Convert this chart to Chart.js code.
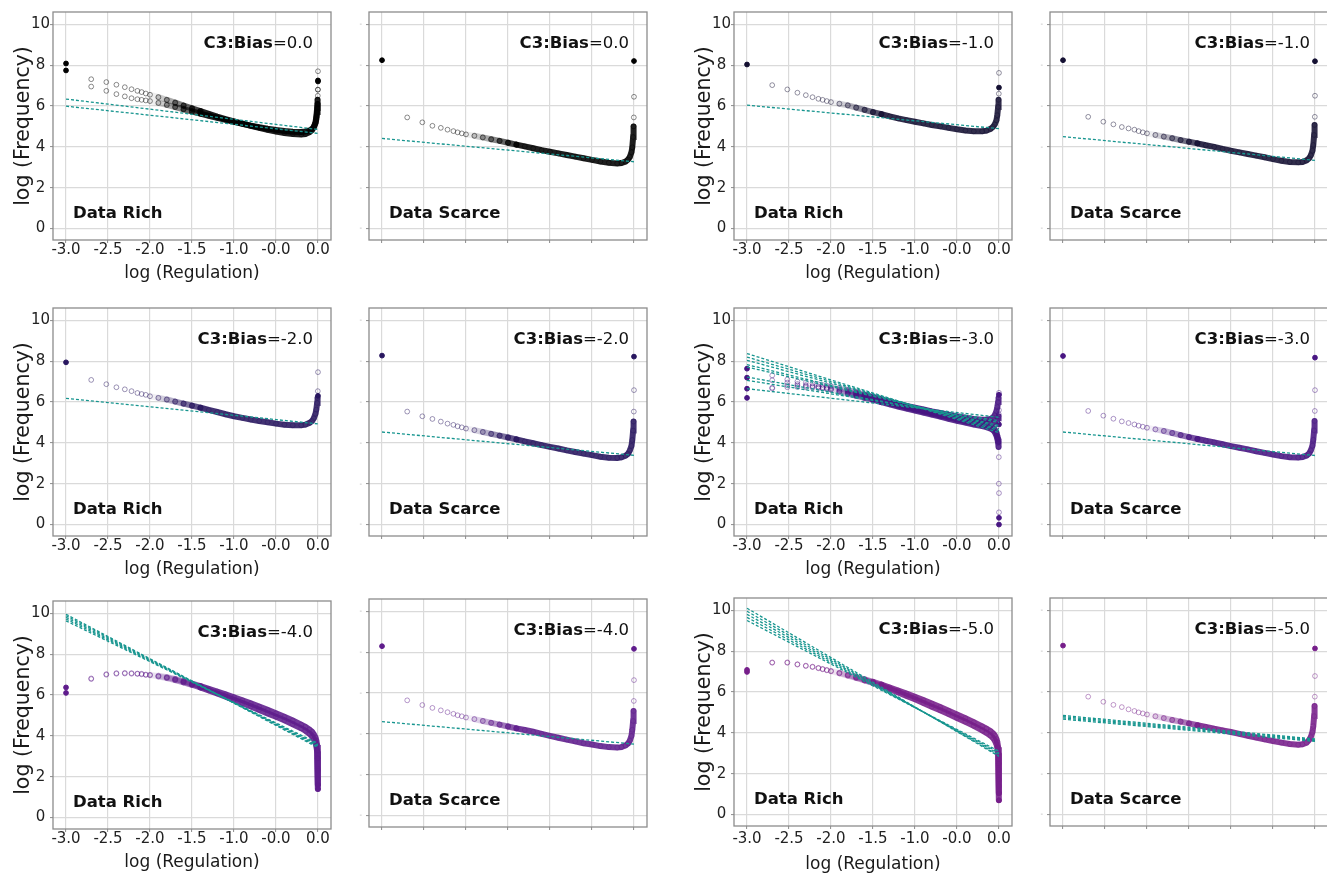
<!DOCTYPE html>
<html>
<head>
<meta charset="utf-8">
<title>Regulation vs frequency</title>
<script src="https://cdn.jsdelivr.net/npm/chart.js@4.4.1/dist/chart.umd.min.js"></script>
<style>
  html, body { margin: 0; padding: 0; background: #fff; }
  body { width: 1327px; height: 877px; position: relative; overflow: hidden; }
  .panel { position: absolute; width: 340px; height: 290px; }
</style>
</head>
<body>
<script>
// log10 of the regulation strength, shared by every point curve
// (x = 0 appears twice: the last open circle and the final filled dot)
const REG = [-3.0, -2.7, -2.52, -2.4, -2.3, -2.22, -2.15, -2.1, -2.05, -2.0,
  -1.9, -1.8, -1.7, -1.6, -1.5, -1.4, -1.3, -1.2, -1.1, -1.0,
  -0.9, -0.8, -0.7, -0.6, -0.5, -0.4, -0.3, -0.2, -0.15, -0.1,
  -0.07, -0.05, -0.03, -0.02, -0.01, -0.005, -0.002, 0, 0];

const X_TICKS = [-3, -2.5, -2, -1.5, -1, -0.5, 0];
const X_TICK_LABELS = ['-3.0', '-2.5', '-2.0', '-1.5', '-1.0', '-0.0', '0.0'];
const Y_TICKS = [0, 2, 4, 6, 8, 10];
const FIT_X = [-3, 0];

// log frequency, C3:Bias = 0.0
const RICH_0_UP = [8.08, 7.31, 7.17, 7.04, 6.92, 6.82, 6.74, 6.68, 6.61, 6.55,
  6.43, 6.3, 6.16, 6.02, 5.88, 5.75, 5.61, 5.48, 5.36, 5.25,
  5.14, 5.03, 4.93, 4.83, 4.75, 4.68, 4.63, 4.61, 4.63, 4.72,
  4.82, 4.95, 5.2, 5.45, 5.9, 6.3, 6.8, 7.7, 7.25];
const RICH_0_LO = [7.74, 6.95, 6.74, 6.58, 6.47, 6.38, 6.33, 6.3, 6.27, 6.24,
  6.15, 6.05, 5.95, 5.84, 5.73, 5.63, 5.52, 5.42, 5.32, 5.22,
  5.13, 5.04, 4.96, 4.89, 4.83, 4.78, 4.74, 4.73, 4.75, 4.8,
  4.88, 4.98, 5.15, 5.35, 5.7, 6.1, 6.5, 6.8, 7.2];
const SCARCE_0 = [8.24, 5.44, 5.2, 5.03, 4.93, 4.84, 4.77, 4.71, 4.66, 4.61,
  4.54, 4.46, 4.37, 4.29, 4.2, 4.11, 4.02, 3.93, 3.84, 3.76,
  3.68, 3.6, 3.52, 3.44, 3.36, 3.28, 3.22, 3.19, 3.21, 3.28,
  3.38, 3.5, 3.74, 3.98, 4.48, 5.0, 5.44, 6.45, 8.2];

// C3:Bias = -1.0
const RICH_1 = [8.03, 7.02, 6.81, 6.65, 6.53, 6.43, 6.35, 6.3, 6.24, 6.19,
  6.11, 6.03, 5.92, 5.81, 5.7, 5.6, 5.49, 5.39, 5.31, 5.23,
  5.15, 5.07, 5.0, 4.93, 4.86, 4.8, 4.76, 4.76, 4.79, 4.88,
  4.98, 5.1, 5.3, 5.55, 5.95, 6.3, 6.6, 7.62, 6.9];
const SCARCE_1 = [8.24, 5.47, 5.23, 5.1, 4.97, 4.9, 4.84, 4.77, 4.71, 4.66,
  4.58, 4.5, 4.42, 4.33, 4.25, 4.17, 4.08, 4.0, 3.9, 3.81,
  3.73, 3.65, 3.57, 3.49, 3.4, 3.32, 3.26, 3.24, 3.26, 3.34,
  3.44, 3.58, 3.81, 4.09, 4.58, 5.07, 5.47, 6.5, 8.19];

// C3:Bias = -2.0
const RICH_2 = [7.94, 7.08, 6.87, 6.72, 6.62, 6.53, 6.44, 6.39, 6.35, 6.28,
  6.2, 6.12, 6.02, 5.92, 5.82, 5.72, 5.61, 5.51, 5.4, 5.3,
  5.22, 5.14, 5.07, 5.01, 4.94, 4.89, 4.86, 4.86, 4.89, 4.98,
  5.07, 5.2, 5.42, 5.63, 5.95, 6.2, 6.53, 7.46, 6.3];
const SCARCE_2 = [8.27, 5.53, 5.3, 5.17, 5.04, 4.94, 4.88, 4.81, 4.76, 4.7,
  4.62, 4.53, 4.44, 4.35, 4.26, 4.17, 4.07, 3.98, 3.89, 3.8,
  3.72, 3.63, 3.55, 3.47, 3.4, 3.32, 3.27, 3.26, 3.29, 3.37,
  3.47, 3.62, 3.85, 4.14, 4.6, 5.04, 5.53, 6.58, 8.22];

// C3:Bias = -3.0 (data rich runs split into several curves)
const RICH_3_A = [7.63, 7.3, 7.1, 7.0, 6.95, 6.9, 6.86, 6.83, 6.8, 6.77,
  6.68, 6.58, 6.47, 6.36, 6.25, 6.13, 6.02, 5.91, 5.81, 5.72,
  5.63, 5.54, 5.46, 5.38, 5.3, 5.23, 5.17, 5.13, 5.13, 5.17,
  5.25, 5.35, 5.55, 5.75, 6.0, 6.2, 6.35, 6.45, 6.35];
const RICH_3_B = [7.19, 7.06, 6.95, 6.88, 6.83, 6.79, 6.76, 6.73, 6.71, 6.68,
  6.6, 6.51, 6.41, 6.31, 6.2, 6.1, 5.99, 5.89, 5.79, 5.69,
  5.6, 5.51, 5.42, 5.33, 5.24, 5.16, 5.08, 5.02, 4.99, 4.98,
  4.98, 5.0, 5.05, 5.1, 5.2, 5.3, 5.4, 5.6, 4.9];
const RICH_3_C = [6.65, 6.7, 6.81, 6.81, 6.78, 6.75, 6.72, 6.69, 6.66, 6.62,
  6.53, 6.44, 6.34, 6.25, 6.15, 6.05, 5.94, 5.84, 5.74, 5.64,
  5.54, 5.44, 5.34, 5.25, 5.15, 5.06, 4.97, 4.88, 4.83, 4.78,
  4.72, 4.65, 4.5, 4.35, 4.2, 4.05, 3.3, 0.6, 0.33];
const RICH_3_D = [6.2, 6.66, 6.72, 6.73, 6.72, 6.7, 6.68, 6.66, 6.63, 6.6,
  6.5, 6.4, 6.3, 6.2, 6.1, 5.99, 5.88, 5.78, 5.68, 5.58,
  5.48, 5.38, 5.28, 5.18, 5.08, 4.99, 4.9, 4.82, 4.77, 4.7,
  4.62, 4.52, 4.35, 4.2, 4.0, 3.8, 2.0, 1.54, 0.0];
const SCARCE_3 = [8.25, 5.56, 5.33, 5.18, 5.05, 4.97, 4.9, 4.84, 4.79, 4.74,
  4.66, 4.58, 4.48, 4.38, 4.28, 4.19, 4.1, 4.02, 3.93, 3.84,
  3.76, 3.68, 3.59, 3.51, 3.43, 3.35, 3.3, 3.28, 3.3, 3.38,
  3.48, 3.63, 3.86, 4.15, 4.61, 5.07, 5.56, 6.58, 8.17];

// C3:Bias = -4.0
const RICH_4_UP = [6.37, 6.81, 7.02, 7.07, 7.08, 7.07, 7.05, 7.04, 7.0, 6.99,
  6.94, 6.87, 6.78, 6.68, 6.55, 6.43, 6.3, 6.17, 6.03, 5.89,
  5.74, 5.59, 5.43, 5.27, 5.1, 4.93, 4.75, 4.55, 4.44, 4.3,
  4.2, 4.08, 3.92, 3.78, 3.55, 3.3, 2.9, 2.3, 1.6];
const RICH_4_LO = [6.1, 6.78, 6.99, 7.04, 7.05, 7.04, 7.03, 7.01, 6.98, 6.96,
  6.9, 6.83, 6.73, 6.62, 6.5, 6.37, 6.22, 6.07, 5.92, 5.76,
  5.6, 5.44, 5.27, 5.1, 4.93, 4.76, 4.57, 4.37, 4.25, 4.1,
  3.98, 3.85, 3.68, 3.5, 3.25, 2.9, 2.4, 1.9, 1.4];
const SCARCE_4 = [8.29, 5.64, 5.41, 5.27, 5.15, 5.06, 4.98, 4.91, 4.86, 4.8,
  4.72, 4.63, 4.54, 4.45, 4.36, 4.27, 4.19, 4.1, 4.0, 3.9,
  3.81, 3.72, 3.63, 3.54, 3.48, 3.4, 3.35, 3.33, 3.35, 3.43,
  3.53, 3.66, 3.9, 4.2, 4.63, 5.12, 5.61, 6.63, 8.16];

// C3:Bias = -5.0
const RICH_5_UP = [7.08, 7.45, 7.45, 7.36, 7.29, 7.24, 7.18, 7.13, 7.08, 7.03,
  6.94, 6.84, 6.73, 6.62, 6.5, 6.36, 6.22, 6.07, 5.92, 5.76,
  5.6, 5.43, 5.26, 5.08, 4.9, 4.72, 4.52, 4.32, 4.21, 4.08,
  3.97, 3.87, 3.7, 3.56, 3.3, 3.0, 2.5, 1.7, 1.05];
const RICH_5_LO = [6.98, 7.43, 7.43, 7.34, 7.27, 7.22, 7.16, 7.11, 7.06, 7.01,
  6.91, 6.8, 6.69, 6.57, 6.44, 6.3, 6.14, 5.98, 5.81, 5.64,
  5.46, 5.28, 5.1, 4.92, 4.73, 4.54, 4.34, 4.12, 4.0, 3.86,
  3.74, 3.62, 3.44, 3.28, 3.0, 2.7, 2.2, 1.39, 0.7];
const SCARCE_5 = [8.27, 5.77, 5.52, 5.37, 5.26, 5.15, 5.07, 5.0, 4.95, 4.9,
  4.81, 4.72, 4.63, 4.55, 4.46, 4.37, 4.29, 4.2, 4.12, 4.04,
  3.95, 3.86, 3.77, 3.68, 3.6, 3.52, 3.45, 3.42, 3.44, 3.52,
  3.65, 3.79, 4.04, 4.33, 4.82, 5.31, 5.77, 6.78, 8.13];

// fitted lines: [value at x = -3, value at x = 0]
const FIT_RICH_0 = [[6.34, 4.85], [5.99, 4.66]];
const FIT_SCARCE_0 = [[4.41, 3.27]];
const FIT_RICH_1 = [[6.04, 4.89]];
const FIT_SCARCE_1 = [[4.5, 3.34]];
const FIT_RICH_2 = [[6.18, 4.93]];
const FIT_SCARCE_2 = [[4.53, 3.39]];
const FIT_RICH_3 = [[8.37, 4.5], [8.2, 4.6], [8.04, 4.68], [7.83, 4.78],
  [7.71, 4.85], [7.22, 5.0], [7.06, 5.08], [6.65, 5.25]];
const FIT_SCARCE_3 = [[4.53, 3.38]];
const FIT_RICH_4 = [[9.95, 3.42], [9.88, 3.47], [9.8, 3.52], [9.72, 3.57], [9.63, 3.63]];
const FIT_SCARCE_4 = [[4.6, 3.5]];
const FIT_RICH_5 = [[10.1, 2.85], [9.95, 2.9], [9.8, 2.97], [9.65, 3.03], [9.5, 3.1]];
const FIT_SCARCE_5 = [[4.85, 3.7], [4.79, 3.66], [4.73, 3.62], [4.67, 3.58]];

// colour of the points for each bias level (r,g,b)
const BIAS_COLORS = {
  '0.0': '0,0,0',
  '-1.0': '20,16,50',
  '-2.0': '40,22,95',
  '-3.0': '72,22,130',
  '-4.0': '95,28,140',
  '-5.0': '118,30,138'
};

// where each panel's plot box sits on the page;
// tail: the dense band runs all the way down the x = 0 column
const PANELS = [
  { left: 53, top: 12, rich: true, bias: '0.0', curves: [RICH_0_UP, RICH_0_LO], fits: FIT_RICH_0 },
  { left: 369, top: 12, rich: false, bias: '0.0', curves: [SCARCE_0], fits: FIT_SCARCE_0 },
  { left: 734, top: 12, rich: true, bias: '-1.0', curves: [RICH_1], fits: FIT_RICH_1 },
  { left: 1050, top: 12, rich: false, bias: '-1.0', curves: [SCARCE_1], fits: FIT_SCARCE_1 },
  { left: 53, top: 308, rich: true, bias: '-2.0', curves: [RICH_2], fits: FIT_RICH_2 },
  { left: 369, top: 308, rich: false, bias: '-2.0', curves: [SCARCE_2], fits: FIT_SCARCE_2 },
  { left: 734, top: 308, rich: true, bias: '-3.0', curves: [RICH_3_A, RICH_3_B, RICH_3_C, RICH_3_D], fits: FIT_RICH_3 },
  { left: 1050, top: 308, rich: false, bias: '-3.0', curves: [SCARCE_3], fits: FIT_SCARCE_3 },
  { left: 53, top: 601, rich: true, bias: '-4.0', curves: [RICH_4_UP, RICH_4_LO], fits: FIT_RICH_4, tail: true },
  { left: 369, top: 599, rich: false, bias: '-4.0', curves: [SCARCE_4], fits: FIT_SCARCE_4 },
  { left: 734, top: 598, rich: true, bias: '-5.0', curves: [RICH_5_UP, RICH_5_LO], fits: FIT_RICH_5, tail: true, lowAxis: true },
  { left: 1050, top: 598, rich: false, bias: '-5.0', curves: [SCARCE_5], fits: FIT_SCARCE_5 }
];

const FONT = '"DejaVu Sans", Verdana, sans-serif';
Chart.defaults.font.family = FONT;
Chart.defaults.color = '#222';

const AXIS_W = 53;   // room left of the plot box
const PAD_TOP = 12;
const BOX_W = 278;
const BOX_H = 228;
const CANVAS_W = 340;
const CANVAS_H = 290;

// frame around the plot box plus the two text labels inside it
const panelFrame = {
  id: 'panelFrame',
  afterDraw(chart, args, opts) {
    const { ctx, chartArea: a } = chart;
    ctx.save();
    ctx.strokeStyle = '#8c8c8c';
    ctx.lineWidth = 1.3;
    ctx.strokeRect(a.left, a.top, a.right - a.left, a.bottom - a.top);

    ctx.fillStyle = '#111';
    ctx.textBaseline = 'alphabetic';
    ctx.textAlign = 'left';
    const head = 'C3:Bias';
    const tail = '=' + opts.bias;
    const bold = 'bold 16.5px ' + FONT;
    const plain = '16.5px ' + FONT;
    ctx.font = bold;
    const wHead = ctx.measureText(head).width;
    ctx.font = plain;
    const wTail = ctx.measureText(tail).width;
    const xEnd = a.right - 18;
    const yHead = a.top + 36;
    ctx.font = bold;
    ctx.fillText(head, xEnd - wTail - wHead, yHead);
    ctx.font = plain;
    ctx.fillText(tail, xEnd - wTail, yHead);

    ctx.font = 'bold 16.5px ' + FONT;
    ctx.fillText(opts.kind, a.left + 20, a.bottom - 22);
    ctx.restore();
  }
};

function pointDataset(ys, rgb, tail) {
  const n = REG.length;
  const lastBand = tail ? n - 1 : n - 4;
  const solid = `rgb(${rgb})`;
  return {
    data: REG.map((x, i) => ({ x, y: ys[i] })),
    order: 1,
    showLine: true,
    borderWidth: 6,
    borderCapStyle: 'round',
    segment: {
      // the band only shows where the circles pile up
      borderColor: ctx => {
        if (ctx.p1DataIndex > lastBand) return 'transparent';
        const t = Math.max(0, Math.min(1, (ctx.p0.parsed.x + 2.05) / 0.65));
        return `rgba(${rgb},${(t * 0.88).toFixed(3)})`;
      }
    },
    pointRadius: 2.4,
    pointBorderWidth: 1,
    pointBackgroundColor: ctx => (ctx.dataIndex === 0 || ctx.dataIndex === n - 1) ? solid : 'transparent',
    pointBorderColor: ctx => (ctx.dataIndex === 0 || ctx.dataIndex === n - 1) ? solid : `rgba(${rgb},0.45)`
  };
}

function fitDataset(pair) {
  return {
    data: FIT_X.map((x, i) => ({ x, y: pair[i] })),
    order: 0,
    showLine: true,
    borderColor: '#17958f',
    borderWidth: 1.3,
    borderDash: [3, 2],
    pointRadius: 0
  };
}

function makePanel(p) {
  const wrap = document.createElement('div');
  wrap.className = 'panel';
  wrap.style.left = (p.left - AXIS_W) + 'px';
  wrap.style.top = (p.top - PAD_TOP) + 'px';
  const canvas = document.createElement('canvas');
  canvas.width = CANVAS_W;
  canvas.height = CANVAS_H;
  wrap.appendChild(canvas);
  document.body.appendChild(wrap);

  const rgb = BIAS_COLORS[p.bias];
  const datasets = p.fits.map(fitDataset).concat(p.curves.map(ys => pointDataset(ys, rgb, p.tail)));

  const gridOpts = { color: '#dadada', lineWidth: 1.2, tickLength: 3, tickColor: '#8c8c8c', tickWidth: 1 };

  new Chart(canvas, {
    type: 'scatter',
    data: { datasets },
    options: {
      responsive: false,
      animation: false,
      events: [],
      layout: {
        autoPadding: false,
        padding: { left: 0, top: PAD_TOP, right: CANVAS_W - AXIS_W - BOX_W, bottom: 0 }
      },
      scales: {
        x: {
          type: 'linear',
          min: -3.155,
          max: 0.155,
          afterBuildTicks: s => { s.ticks = X_TICKS.map(v => ({ value: v })); },
          afterFit: s => { s.height = CANVAS_H - PAD_TOP - BOX_H; },
          grid: gridOpts,
          border: { display: false },
          ticks: {
            autoSkip: false,
            maxRotation: 0,
            padding: p.lowAxis ? 3 : 0,
            color: '#222',
            font: { size: 15, lineHeight: 1 },
            callback: (v, i) => p.rich ? X_TICK_LABELS[i] : ''
          },
          title: {
            display: p.rich,
            text: 'log (Regulation)',
            color: '#1a1a1a',
            font: { size: 17 },
            padding: { top: 0, bottom: p.lowAxis ? 1 : 6 }
          }
        },
        y: {
          type: 'linear',
          min: -0.56,
          max: 10.6,
          afterBuildTicks: s => { s.ticks = Y_TICKS.map(v => ({ value: v })); },
          afterFit: s => { s.width = AXIS_W; },
          grid: gridOpts,
          border: { display: false },
          ticks: p.rich
            ? { padding: 0, crossAlign: 'center', color: '#222', font: { size: 15 }, callback: v => String(v) }
            : { padding: 4, color: '#b0b0b0', font: { size: 7 }, callback: () => '-' },
          title: {
            display: p.rich,
            text: 'log (Frequency)',
            color: '#1a1a1a',
            font: { size: 20.5 },
            padding: { top: 11, bottom: 0 }
          }
        }
      },
      plugins: {
        legend: { display: false },
        tooltip: { enabled: false },
        panelFrame: { bias: p.bias, kind: p.rich ? 'Data Rich' : 'Data Scarce' }
      }
    },
    plugins: [panelFrame]
  });
}

PANELS.forEach(makePanel);
</script>
</body>
</html>
